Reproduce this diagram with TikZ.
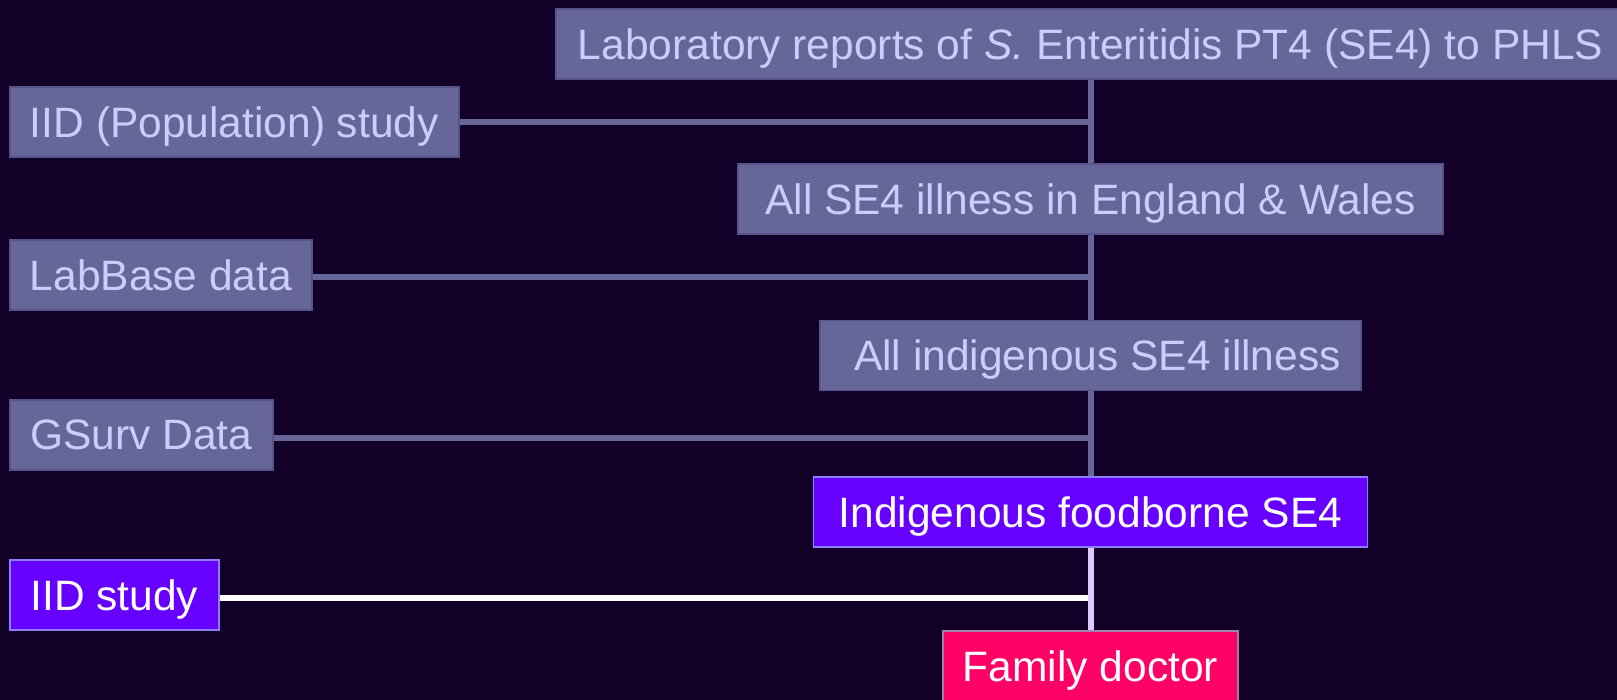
\documentclass[tikz,border=0pt]{standalone}
\usepackage{fontspec}
\setmainfont{Liberation Sans}
\usetikzlibrary{calc}

\definecolor{bgdark}{HTML}{130028}
\definecolor{greybox}{HTML}{666699}
\definecolor{greyedge}{HTML}{57548C}
\definecolor{lavtext}{HTML}{CCCCFF}
\definecolor{violetbox}{HTML}{6600FF}
\definecolor{violetedge}{HTML}{8C7CFF}
\definecolor{pinkbox}{HTML}{FF0066}
\definecolor{pinkedge}{HTML}{9A82A8}
\definecolor{lavline}{HTML}{DDC8FF}

\tikzset{
	box/.style={minimum height=35pt, inner xsep=10pt, inner ysep=0pt, text depth=0pt, font=\fontsize{21.25}{25}\selectfont},
	greynode/.style={box, fill=greybox, draw=greyedge, line width=0.8pt, text=lavtext},
	violetnode/.style={box, fill=violetbox, draw=violetedge, line width=0.8pt, text=white},
	pinknode/.style={box, fill=pinkbox, draw=pinkedge, line width=0.8pt, text=white},
	greylink/.style={draw=greybox, line width=3pt},
}

\begin{document}
\begin{tikzpicture}[x=0.5pt, y=-0.5pt]

	\fill[bgdark] (0,0) rectangle (1617,700);
	\useasboundingbox (0,0) rectangle (1617,700);

	% right column
	\node[greynode, minimum width=534.5pt] (lab) at (1090.5,44) {Laboratory reports of \textit{S.} Enteritidis PT4 (SE4) to PHLS};
	\node[greynode, minimum width=352.5pt] (allse) at (1090.5,199) {All SE4 illness in England \& Wales\hspace{7pt}};
	\node[greynode, minimum width=269pt] (indig) at (1090.5,355.5) {\hspace{7pt}All indigenous SE4 illness};
	\node[violetnode, minimum width=277pt] (food) at (1090.5,512) {Indigenous foodborne SE4\hspace{7pt}};
	\node[pinknode, minimum width=147pt] (doc) at (1090.5,666) {Family doctor};

	% left column
	\node[greynode, minimum width=224.5pt, anchor=west] (pop) at (9,122) {IID (Population) study};
	\node[greynode, minimum width=151pt, anchor=west] (labbase) at (9,275) {LabBase data};
	\node[greynode, minimum width=131.5pt, anchor=west] (gsurv) at (9,435) {GSurv Data};
	\node[violetnode, minimum width=104.5pt, anchor=west] (iid) at (9,595) {IID study};

	% connectors
	\draw[greylink] (lab.south) -- (allse.north);
	\draw[greylink] (allse.south) -- (indig.north);
	\draw[greylink] (indig.south) -- (food.north);
	\draw[draw=lavline, line width=3pt] (food.south) -- (doc.north);

	\draw[greylink] (pop.east) -- (pop.east -| lab.south);
	\draw[greylink] ($(labbase.east)+(0,2)$) -- ($(labbase.east -| allse.south)+(0,2)$);
	\draw[greylink] ($(gsurv.east)+(0,3)$) -- ($(gsurv.east -| indig.south)+(0,3)$);
	\draw[draw=white, line width=3.2pt] ($(iid.east)+(0,3)$) -- ($(iid.east -| food.south)+(-3,3)$);
\end{tikzpicture}
\end{document}
